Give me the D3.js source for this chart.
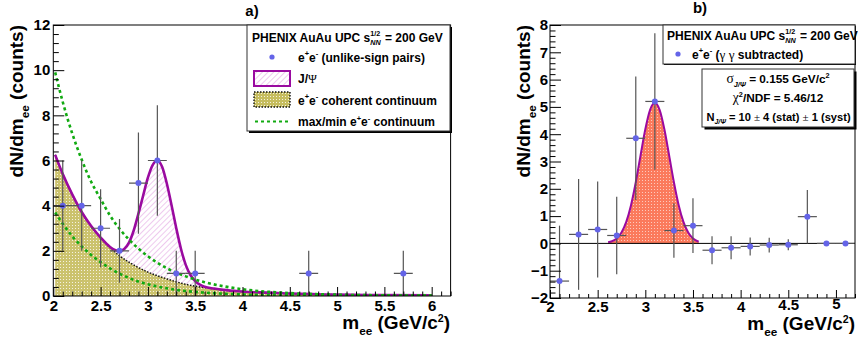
<!DOCTYPE html>
<html><head><meta charset="utf-8">
<script src="https://cdn.jsdelivr.net/npm/d3@7"></script>
<style>html,body{margin:0;padding:0;background:#fff;}svg{display:block;}</style>
</head><body>
<svg id="c" width="858" height="340"></svg>
<script>
// ---------- DATA ----------
// panel a) data points
const aPtsX   = [2.1, 2.3, 2.5, 2.7, 2.9, 3.1, 3.3, 3.5, 4.7, 5.7];
const aPtsY   = [4, 4, 3, 2, 5, 6, 1, 1, 1, 1];
const aPtsErr = [2, 2, 1.73, 1.41, 2.24, 2.45, 1, 1, 1, 1];
const aPtsXErr= [0.1, 0.1, 0.1, 0.1, 0.1, 0.1, 0.1, 0.1, 0.1, 0.1];
// panel a) curves
const aCurveX = [2.02,2.1,2.2,2.3,2.4,2.5,2.6,2.7,2.8,2.9,3.0,3.2,3.4,3.6,3.8,4.0,4.5,5.0,5.5,6.0];
const aContY  = [6.25,5.40,4.50,3.72,3.10,2.58,2.14,1.78,1.50,1.26,1.06,0.76,0.52,0.37,0.27,0.20,0.11,0.06,0.04,0.03];
const aMaxY   = [9.9,8.59,7.20,6.04,5.06,4.30,3.56,2.98,2.50,2.10,1.76,1.23,0.87,0.61,0.43,0.30,0.13,0.06,0.03,0.02];
const aMinY   = [3.7,3.2,2.65,2.2,1.82,1.5,1.22,0.99,0.8,0.64,0.52,0.34,0.22,0.15,0.10,0.07,0.03,0.015,0.01,0.005];
const aTotX   = [2.02,2.1,2.2,2.3,2.4,2.5,2.6,2.65,2.7,2.75,2.8,2.85,2.9,2.95,3.0,3.05,3.1,3.15,3.2,3.25,3.3,3.35,3.4,3.45,3.5,3.55,3.6,3.7,3.8,4.0,4.5,5.0,5.5,6.0];
const aTotY   = [6.25,5.40,4.50,3.72,3.10,2.59,2.17,2.04,1.99,2.08,2.36,2.90,3.65,4.45,5.24,5.80,6.0,5.72,4.98,4.02,3.00,2.08,1.38,0.93,0.66,0.50,0.41,0.33,0.27,0.20,0.11,0.06,0.04,0.03];
// panel b) data points
const bPtsX   = [2.1,2.3,2.5,2.7,2.9,3.1,3.3,3.5,3.7,3.9,4.1,4.3,4.5,4.7,4.9,5.1];
const bPtsY   = [-1.38,0.33,0.51,0.29,3.85,5.2,0.47,0.65,-0.25,-0.16,-0.11,-0.06,-0.05,0.98,0.0,0.0];
const bPtsErr = [2.03,2.03,1.76,1.42,2.26,2.5,1.0,1.0,0.51,0.42,0.33,0.27,0.2,0.98,0.05,0.03];
const bPtsXErr= [0.1,0.1,0.1,0.1,0.1,0.1,0.1,0.1,0.1,0.1,0.1,0.1,0.1,0.1,0.1,0.1];
// panel b) gaussian fit
const bGausX  = [2.61,2.65,2.7,2.75,2.8,2.85,2.9,2.95,3.0,3.05,3.1,3.15,3.2,3.25,3.3,3.35,3.4,3.45,3.5,3.56];
const bGausY  = [0.04,0.08,0.18,0.40,0.79,1.40,2.24,3.22,4.18,4.89,5.15,4.89,4.18,3.22,2.24,1.40,0.79,0.40,0.18,0.06];
// ticks
const aXMajor = [2,2.5,3,3.5,4,4.5,5,5.5,6];
const aYMajor = [0,2,4,6,8,10,12];
const bXMajor = [2,2.5,3,3.5,4,4.5,5];
const bYMajor = [-2,-1,0,1,2,3,4,5,6,7,8];
const aXDomain = [2, 6.2], aYDomain = [0, 12];
const bXDomain = [2, 5.2], bYDomain = [-2, 8];

// ---------- SETUP ----------
const SANS = "'Liberation Sans', Arial, Helvetica, sans-serif";
const SERIF = "'Liberation Serif', 'DejaVu Serif', 'Times New Roman', serif";
const svg = d3.select('#c');
const defs = svg.append('defs');

const ph = defs.append('pattern').attr('id','hatchPink').attr('patternUnits','userSpaceOnUse')
  .attr('width',4).attr('height',4).attr('patternTransform','rotate(45)');
ph.append('line').attr('x1',0).attr('y1',0).attr('x2',0).attr('y2',4).attr('stroke','#d98ad9').attr('stroke-width',0.9);

const po = defs.append('pattern').attr('id','dotOlive').attr('patternUnits','userSpaceOnUse').attr('width',3).attr('height',3);
po.append('rect').attr('width',3).attr('height',3).attr('fill','#c6bd5e');
po.append('rect').attr('width',1).attr('height',1).attr('fill','#fff').attr('opacity',0.8);

const ps = defs.append('pattern').attr('id','dotSalmon').attr('patternUnits','userSpaceOnUse').attr('width',3).attr('height',3);
ps.append('rect').attr('width',3).attr('height',3).attr('fill','#fb7a5c');
ps.append('rect').attr('width',1).attr('height',1).attr('fill','#fff').attr('opacity',0.6);

function rich(parent, segs, o) {
  const g = parent.append('g');
  const inner = g.append('g');
  const base = o.size;
  let cx = 0;
  function put(t, x, dy, sz, st) {
    const el = inner.append('text').attr('x', x).attr('y', dy).attr('font-size', sz)
      .attr('font-family', st.serif ? SERIF : SANS)
      .attr('font-weight', st.serif ? 'normal' : 'bold')
      .attr('font-style', st.italic ? 'italic' : 'normal')
      .attr('fill', '#000').attr('xml:space', 'preserve').style('white-space','pre').text(t);
    return el.node().getComputedTextLength();
  }
  segs.forEach(s => {
    if (typeof s === 'string') s = {t: s};
    if (s.stack) {
      const w1 = put(s.stack[0], cx, -0.42*base, 0.6*base, {});
      const w2 = put(s.stack[1], cx, 0.32*base, 0.6*base, {italic: true});
      cx += Math.max(w1, w2) + 1;
    } else if (s.sup) cx += put(s.t, cx, -(o.supShift||0.42)*base, (o.supSize||0.62)*base, s);
    else if (s.sub) cx += put(s.t, cx, 0.3*base, 0.62*base, s);
    else cx += put(s.t, cx, 0, s.scale ? base*s.scale : base, s);
  });
  const shift = o.anchor === 'end' ? -cx : o.anchor === 'middle' ? -cx/2 : 0;
  inner.attr('transform', `translate(${shift},0)`);
  g.attr('transform', `translate(${o.x},${o.y})` + (o.rotate ? ` rotate(${o.rotate})` : ''));
  return g;
}

function minorTicks(domain, step, majors) {
  const out = [];
  const n = Math.round((domain[1]-domain[0])/step);
  for (let i = 0; i <= n; i++) {
    const v = +(domain[0] + i*step).toFixed(4);
    if (!majors.some(m => Math.abs(m - v) < 1e-6)) out.push(v);
  }
  return out;
}

function drawAxes(g, x, y, xMaj, yMaj, xMinStep, yMinStep, xDom, yDom, xPad, yPad, xTL, yTL) {
  const r = y.range();
  const fmt = d3.format('~g');
  const styleAxis = sel => {
    sel.select('.domain').remove();
    sel.selectAll('line').attr('stroke','#000').attr('stroke-width',1);
    sel.selectAll('text').attr('font-family',SANS).attr('font-weight','bold').attr('font-size',15).attr('fill','#000');
  };
  g.append('g').attr('transform',`translate(0,${r[0]})`)
    .call(d3.axisBottom(x).tickValues(minorTicks(xDom, xMinStep, xMaj)).tickSizeInner(-xTL/2).tickSizeOuter(0).tickFormat(''))
    .call(styleAxis);
  const xg = g.append('g').attr('transform',`translate(0,${r[0]})`)
    .call(d3.axisBottom(x).tickValues(xMaj).tickSizeInner(-xTL).tickSizeOuter(0).tickPadding(xPad).tickFormat(fmt))
    .call(styleAxis);
  g.append('g').attr('transform',`translate(${x.range()[0]},0)`)
    .call(d3.axisLeft(y).tickValues(minorTicks(yDom, yMinStep, yMaj)).tickSizeInner(-yTL/2).tickSizeOuter(0).tickFormat(''))
    .call(styleAxis);
  g.append('g').attr('transform',`translate(${x.range()[0]},0)`)
    .call(d3.axisLeft(y).tickValues(yMaj).tickSizeInner(-yTL).tickSizeOuter(0).tickPadding(yPad).tickFormat(fmt))
    .call(styleAxis);
  g.append('rect').attr('x',x.range()[0]).attr('y',r[1]).attr('width',x.range()[1]-x.range()[0])
    .attr('height',r[0]-r[1]).attr('fill','none').attr('stroke','#000').attr('stroke-width',1);
  return xg;
}

function drawPoints(g, x, y, X, Y, E, XE, clipId) {
  const eg = g.append('g').attr('clip-path',`url(#${clipId})`);
  X.forEach((xv, i) => {
    eg.append('line').attr('x1',x(xv)).attr('x2',x(xv)).attr('y1',y(Y[i]-E[i])).attr('y2',y(Y[i]+E[i]))
      .attr('stroke','#555').attr('stroke-width',1.2);
    eg.append('line').attr('x1',x(xv-XE[i])).attr('x2',x(xv+XE[i])).attr('y1',y(Y[i])).attr('y2',y(Y[i]))
      .attr('stroke','#555').attr('stroke-width',1.2);
  });
  eg.selectAll('circle.pt').data(X).join('circle').attr('class','pt')
    .attr('cx',d => x(d)).attr('cy',(d,i) => y(Y[i])).attr('r',3).attr('fill','#6464e8');
}

function legendBox(g, x0, y0, x1, y1, sh) {
  g.append('rect').attr('x',x0+sh).attr('y',y0+sh).attr('width',x1-x0).attr('height',y1-y0).attr('fill','#000');
  g.append('rect').attr('x',x0).attr('y',y0).attr('width',x1-x0).attr('height',y1-y0).attr('fill','#fff')
    .attr('stroke','#333').attr('stroke-width',1);
}

// ---------- PANEL a ----------
const xa = d3.scaleLinear().domain(aXDomain).range([53.3, 450.6]);
const ya = d3.scaleLinear().domain(aYDomain).range([296, 25]);
defs.append('clipPath').attr('id','clipA').append('rect').attr('x',53.3).attr('y',25).attr('width',450.6-53.3).attr('height',296-25);
const ga = svg.append('g');
const pa = ga.append('g').attr('clip-path','url(#clipA)');

const areaTot = d3.area().x((d,i)=>xa(aTotX[i])).y0(ya(0)).y1((d,i)=>ya(aTotY[i])).curve(d3.curveMonotoneX);
pa.append('path').attr('d', areaTot(aTotY)).attr('fill','url(#hatchPink)');
const areaCont = d3.area().x((d,i)=>xa(aCurveX[i])).y0(ya(0)).y1((d,i)=>ya(aContY[i])).curve(d3.curveMonotoneX);
pa.append('path').attr('d', areaCont(aContY)).attr('fill','url(#dotOlive)').attr('opacity',0.9);
const lineCont = d3.line().x((d,i)=>xa(aCurveX[i])).y((d,i)=>ya(d)).curve(d3.curveMonotoneX);
pa.append('path').attr('d', lineCont(aContY)).attr('fill','none').attr('stroke','#111').attr('stroke-width',1.4).attr('stroke-dasharray','1.5,1.5');
const lineTot = d3.line().x((d,i)=>xa(aTotX[i])).y(d=>ya(d)).curve(d3.curveMonotoneX);
pa.append('path').attr('d', lineTot(aTotY)).attr('fill','none').attr('stroke','#9a0aa0').attr('stroke-width',2.6);
pa.append('path').attr('d', lineCont(aMaxY)).attr('fill','none').attr('stroke','#11aa11').attr('stroke-width',2.6).attr('stroke-dasharray','3,3');
pa.append('path').attr('d', lineCont(aMinY)).attr('fill','none').attr('stroke','#11aa11').attr('stroke-width',2.6).attr('stroke-dasharray','3,3');

drawPoints(ga, xa, ya, aPtsX, aPtsY, aPtsErr, aPtsXErr, 'clipA');
drawAxes(ga, xa, ya, aXMajor, aYMajor, 0.1, 0.4, aXDomain, aYDomain, 4, 3, 9, 11);

rich(ga, ['a)'], {x:252, y:16, size:15, anchor:'middle'});
rich(ga, ['m', {t:'ee', sub:true}, ' (GeV/c', {t:'2', sup:true}, ')'], {x:450, y:329, size:19, anchor:'end', supShift:0.38, supSize:0.56});
rich(ga, ['dN/dm', {t:'ee', sub:true}, ' (counts)'], {x:23, y:25, size:19, anchor:'end', rotate:-90});

legendBox(ga, 247, 25, 450, 131, 2);
rich(ga, ['PHENIX AuAu UPC s', {stack:['1/2','NN']}, ' = 200 GeV'], {x:252, y:41.5, size:12});
ga.append('circle').attr('cx',272).attr('cy',57).attr('r',2.6).attr('fill','#6464e8');
rich(ga, ['e', {t:'+', sup:true}, 'e', {t:'-', sup:true}, ' (unlike-sign pairs)'], {x:298, y:61.5, size:12});
ga.append('rect').attr('x',254).attr('y',71).attr('width',36).attr('height',15).attr('fill','url(#hatchPink)')
  .attr('stroke','#9a0aa0').attr('stroke-width',2);
rich(ga, ['J/', {t:'Ψ', serif:true}], {x:298, y:83, size:12});
ga.append('rect').attr('x',254).attr('y',92).attr('width',36).attr('height',15).attr('fill','url(#dotOlive)')
  .attr('stroke','#111').attr('stroke-width',1.4).attr('stroke-dasharray','1.5,1.5');
rich(ga, ['e', {t:'+', sup:true}, 'e', {t:'-', sup:true}, ' coherent continuum'], {x:298, y:104.5, size:12});
ga.append('line').attr('x1',255).attr('x2',289).attr('y1',121.5).attr('y2',121.5).attr('stroke','#11aa11')
  .attr('stroke-width',2).attr('stroke-dasharray','3,3');
rich(ga, ['max/min e', {t:'+', sup:true}, 'e', {t:'-', sup:true}, ' continuum'], {x:298, y:126, size:12});

// ---------- PANEL b ----------
const xb = d3.scaleLinear().domain(bXDomain).range([550, 855]);
const yb = d3.scaleLinear().domain(bYDomain).range([298, 25]);
defs.append('clipPath').attr('id','clipB').append('rect').attr('x',550).attr('y',25).attr('width',305).attr('height',273);
const gb = svg.append('g');
const pb = gb.append('g').attr('clip-path','url(#clipB)');

const areaG = d3.area().x((d,i)=>xb(bGausX[i])).y0(yb(0)).y1(d=>yb(d)).curve(d3.curveMonotoneX);
pb.append('path').attr('d', areaG(bGausY)).attr('fill','url(#dotSalmon)');
const lineG = d3.line().x((d,i)=>xb(bGausX[i])).y(d=>yb(d)).curve(d3.curveMonotoneX);
pb.append('path').attr('d', lineG(bGausY)).attr('fill','none').attr('stroke','#9a0aa0').attr('stroke-width',2);
pb.append('line').attr('x1',xb(bXDomain[0])).attr('x2',xb(bXDomain[1])).attr('y1',yb(0)).attr('y2',yb(0))
  .attr('stroke','#000').attr('stroke-width',1);

drawPoints(gb, xb, yb, bPtsX, bPtsY, bPtsErr, bPtsXErr, 'clipB');
const bxg = drawAxes(gb, xb, yb, bXMajor, bYMajor, 0.1, 0.2, bXDomain, bYDomain, 3, 2, 8, 11);
// ROOT pushed the last labels up slightly
bxg.selectAll('.tick').filter(d => d === 5).select('text').attr('y', 0);
bxg.selectAll('.tick').filter(d => d === 4.5).select('text').attr('y', 1.5);

rich(gb, ['b)'], {x:700, y:12.5, size:15, anchor:'middle'});
rich(gb, ['m', {t:'ee', sub:true}, ' (GeV/c', {t:'2', sup:true}, ')'], {x:855, y:330, size:19, anchor:'end', supShift:0.38, supSize:0.56});
rich(gb, ['dN/dm', {t:'ee', sub:true}, ' (counts)'], {x:530, y:25, size:19, anchor:'end', rotate:-90});

legendBox(gb, 663, 25, 855, 64, 1);
rich(gb, ['PHENIX AuAu UPC s', {stack:['1/2','NN']}, ' = 200 GeV'], {x:667, y:39.5, size:12});
gb.append('circle').attr('cx',678).attr('cy',54).attr('r',2.6).attr('fill','#6464e8');
rich(gb, ['e', {t:'+', sup:true}, 'e', {t:'-', sup:true}, ' (', {t:'γ γ', serif:true, scale:1.1}, ' subtracted)'], {x:692, y:58.5, size:12});

legendBox(gb, 702, 69, 854, 127, 2.5);
rich(gb, [{t:'σ', serif:true, scale:1.15}, {t:'J/Ψ', sub:true, italic:true}, ' = 0.155 GeV/c', {t:'2', sup:true}], {x:778, y:83, size:11.8, anchor:'middle'});
rich(gb, [{t:'χ', serif:true, scale:1.15}, {t:'2', sup:true}, '/NDF = 5.46/12'], {x:778, y:102, size:11.8, anchor:'middle'});
rich(gb, ['N', {t:'J/Ψ', sub:true, italic:true}, ' = 10 ', {t:'±', serif:true}, ' 4 (stat) ', {t:'±', serif:true}, ' 1 (syst)'], {x:778.5, y:121, size:11.1, anchor:'middle'});
</script>
</body></html>
